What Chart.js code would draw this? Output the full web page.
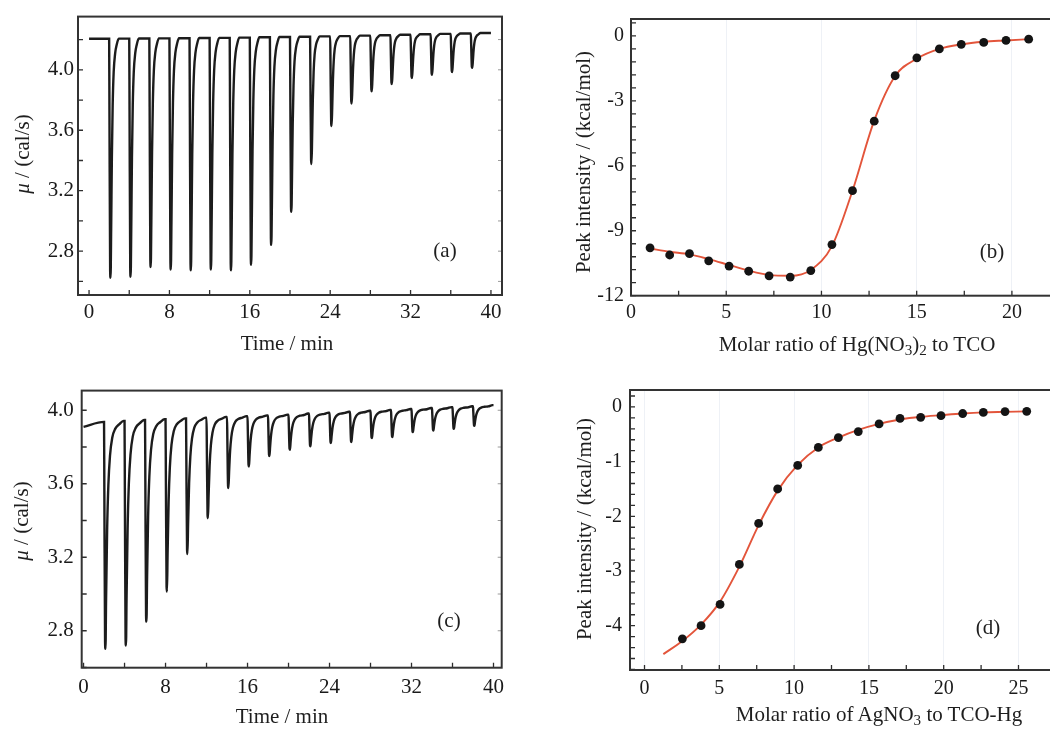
<!DOCTYPE html>
<html><head><meta charset="utf-8">
<script src="https://cdn.jsdelivr.net/npm/chart.js@4.4.1/dist/chart.umd.min.js"></script>
<style>
html,body{margin:0;padding:0;background:#fff;width:1050px;height:729px;overflow:hidden;position:relative}
canvas{position:absolute}
.t{position:absolute;font-family:'Liberation Serif','Times New Roman',serif;font-size:21px;color:#1e1e1e;line-height:1;white-space:nowrap;transform:translate(-50%,-50%)}
.r{transform:translate(-50%,-50%) rotate(-90deg)}
sub{font-size:72%;vertical-align:-0.28em;line-height:0}
</style></head><body>
<canvas id="ca" width="520" height="365" style="left:0;top:0"></canvas>
<canvas id="cb" width="600" height="365" style="left:520px;top:0"></canvas>
<canvas id="cc" width="520" height="359" style="left:0;top:370px"></canvas>
<canvas id="cd" width="600" height="359" style="left:520px;top:370px"></canvas>

<div class="t" style="left:287px;top:343px">Time / min</div>
<div class="t r" style="left:22px;top:154px"><i>μ</i> / (cal/s)</div>
<div class="t" style="left:445px;top:250px">(a)</div>

<div class="t" style="left:857px;top:344px">Molar ratio of Hg(NO<sub>3</sub>)<sub>2</sub> to TCO</div>
<div class="t r" style="left:583px;top:162px">Peak intensity / (kcal/mol)</div>
<div class="t" style="left:992px;top:251px">(b)</div>

<div class="t" style="left:282px;top:716px">Time / min</div>
<div class="t r" style="left:21px;top:521px"><i>μ</i> / (cal/s)</div>
<div class="t" style="left:449px;top:620px">(c)</div>

<div class="t" style="left:879px;top:714px">Molar ratio of AgNO<sub>3</sub> to TCO-Hg</div>
<div class="t r" style="left:584px;top:529px">Peak intensity / (kcal/mol)</div>
<div class="t" style="left:988px;top:627px">(d)</div>

<script>
// ---------- data ----------
// Panel (a): thermogram, Hg(NO3)2 into TCO
const injTimesA = [2,4,6,8,10,12,14,16,18,20,22,24,26,28,30,32,34,36,38];
const startLevelA = 4.205;
const baselineA = [4.205,4.206,4.207,4.208,4.209,4.21,4.211,4.213,4.215,4.217,4.219,4.221,4.223,4.226,4.229,4.232,4.235,4.238,4.24,4.243];
const peakMinA = [2.623,2.63,2.695,2.678,2.673,2.678,2.673,2.71,2.842,3.06,3.377,3.628,3.777,3.858,3.906,3.946,3.967,3.985,4.013];
const endTimeA = 40;
// dip shape: [minutes after injection, fraction of dip depth]
const dipShapeA = [[0.03,0.3],[0.1,0.97],[0.14,1],[0.2,0.8],[0.27,0.5],[0.35,0.28],[0.45,0.14],[0.6,0.06],[0.75,0.025],[0.95,0]];

// Panel (c): thermogram, AgNO3 into TCO-Hg
const injTimesC = [2,4,6,8,10,12,14,16,18,20,22,24,26,28,30,32,34,36,38];
const startLevelC = 3.91;
const baselineC = [3.937,3.942,3.947,3.952,3.956,3.96,3.964,3.968,3.972,3.976,3.982,3.987,3.992,3.997,4.002,4.007,4.012,4.017,4.022,4.028];
const peakMinC = [2.702,2.72,2.85,3.013,3.218,3.413,3.577,3.694,3.751,3.785,3.804,3.822,3.827,3.849,3.854,3.881,3.89,3.899,3.916];
const endTimeC = 40;
const dipShapeC = [[0.03,0.3],[0.1,0.97],[0.14,1],[0.2,0.78],[0.3,0.48],[0.42,0.28],[0.58,0.15],[0.8,0.07],[1.1,0.03],[1.5,0.01],[1.9,0]];

// Panel (b): integrated heats
const ratioB = [1.00,2.03,3.07,4.08,5.15,6.18,7.25,8.36,9.44,10.55,11.63,12.77,13.87,15.01,16.19,17.34,18.52,19.69,20.88];
const heatB  = [-9.79,-10.12,-10.06,-10.39,-10.63,-10.87,-11.08,-11.14,-10.84,-9.64,-7.15,-3.94,-1.84,-1.02,-0.60,-0.39,-0.30,-0.21,-0.15];
const fitB   = [-9.82,-9.97,-10.09,-10.31,-10.58,-10.84,-11.04,-11.08,-10.81,-9.71,-7.15,-3.91,-1.85,-1.05,-0.60,-0.39,-0.27,-0.21,-0.15];

// Panel (d): integrated heats
const ratioD = [2.53,3.78,5.05,6.34,7.63,8.90,10.24,11.62,12.96,14.29,15.68,17.08,18.46,19.82,21.27,22.65,24.10,25.55];
const heatD  = [-4.24,-4.00,-3.61,-2.88,-2.13,-1.50,-1.07,-0.74,-0.56,-0.45,-0.31,-0.21,-0.19,-0.16,-0.12,-0.10,-0.085,-0.08];
const fitXD  = [1.26,2.53,3.78,5.05,6.34,7.63,8.90,10.24,11.62,12.96,14.29,15.68,17.08,18.46,19.82,21.27,22.65,24.10,25.55];
const fitYD  = [-4.52,-4.28,-3.98,-3.56,-2.92,-2.16,-1.53,-1.06,-0.74,-0.56,-0.42,-0.31,-0.23,-0.18,-0.15,-0.12,-0.10,-0.09,-0.08];

// tick labels
const xTicksA = [0,8,16,24,32,40];
const yTicksA = [2.8,3.2,3.6,4.0];
const xTicksB = [0,5,10,15,20];
const yTicksB = [-12,-9,-6,-3,0];
const xTicksC = [0,8,16,24,32,40];
const yTicksC = [2.8,3.2,3.6,4.0];
const xTicksD = [0,5,10,15,20,25];
const yTicksD = [-4,-3,-2,-1,0];
// tick marks (inside)
const xMarksAC = [0,4,8,12,16,20,24,28,32,36,40];
const yMarksA = [2.6,2.8,3.0,3.2,3.4,3.6,3.8,4.0,4.2];
const yMarksC = [2.6,2.8,3.0,3.2,3.4,3.6,3.8,4.0];
const xMarksB = [0,2.5,5,7.5,10,12.5,15,17.5,20,22.5];
const yMarksB = [-12,-11.4,-10.8,-10.2,-9.6,-9,-8.4,-7.8,-7.2,-6.6,-6,-5.4,-4.8,-4.2,-3.6,-3,-2.4,-1.8,-1.2,-0.6,0,0.6];
const xMarksD = [0,2.5,5,7.5,10,12.5,15,17.5,20,22.5,25,27.5];
const yMarksD = [-4.8,-4.6,-4.4,-4.2,-4,-3.8,-3.6,-3.4,-3.2,-3,-2.8,-2.6,-2.4,-2.2,-2,-1.8,-1.6,-1.4,-1.2,-1,-0.8,-0.6,-0.4,-0.2,0,0.2];

// ---------- build ----------
function buildThermo(start, inj, base, mins, shape, tEnd){
  const pts = [{x:0, y:start}];
  inj.forEach((t,k)=>{
    pts.push({x:t, y:base[k]});
    shape.forEach(([o,f])=>{
      const B = f===0 ? base[k+1] : base[k];
      pts.push({x:t+o, y:B - f*(B - mins[k])});
    });
  });
  pts.push({x:tEnd, y:base[base.length-1]});
  return pts;
}
const zip = (xs,ys)=>xs.map((x,i)=>({x, y:ys[i]}));

const framePlugin = {
  id:'frame',
  afterDraw(chart, args, opts){
    const {ctx, chartArea:a, scales:{x,y}} = chart;
    ctx.save();
    ctx.strokeStyle = '#2e2e2e'; ctx.lineWidth = 1.3;
    ctx.beginPath();
    (opts.xMarks||[]).forEach(v=>{
      const px = x.getPixelForValue(v);
      if (px < a.left-0.5 || px > a.right+0.5) return;
      ctx.moveTo(px, a.bottom); ctx.lineTo(px, a.bottom-5);
    });
    (opts.yMarks||[]).forEach(v=>{
      const py = y.getPixelForValue(v);
      if (py < a.top-0.5 || py > a.bottom+0.5) return;
      ctx.moveTo(a.left, py); ctx.lineTo(a.left+5, py);
    });
    ctx.stroke();
    if (opts.right){
      ctx.strokeStyle = '#9a9a9a'; ctx.lineWidth = 1;
      ctx.beginPath();
      (opts.yMarks||[]).forEach(v=>{
        const py = y.getPixelForValue(v);
        if (py < a.top-0.5 || py > a.bottom+0.5) return;
        ctx.moveTo(a.right, py); ctx.lineTo(a.right-4, py);
      });
      ctx.stroke();
    }
    ctx.lineWidth = 2; ctx.strokeStyle = '#333';
    ctx.strokeRect(a.left, a.top, a.right-a.left, a.bottom-a.top);
    ctx.restore();
  }
};

const FONT = 'Liberation Serif';
function axis(min, max, ticks, fmt, size, pad, fitSize, isX, grid){
  return {
    type:'linear', min, max,
    afterBuildTicks: s => { s.ticks = ticks.map(v=>({value:v})); },
    afterFit: s => { if (isX) s.height = fitSize; else s.width = fitSize; },
    grid: grid ? {display:true, drawOnChartArea:true, drawTicks:false, color:'rgba(205,215,228,0.35)', lineWidth:1}
               : {display:false, drawTicks:false},
    border:{display:false},
    ticks:{font:{family:FONT, size}, color:'#1a1a1a', padding:pad, maxRotation:0, minRotation:0, autoSkip:false, callback: v => fmt(v)}
  };
}
const f1 = v => v.toFixed(1);
const f0 = v => String(v);

function makeChart(id, datasets, xs, ys, padding, frame){
  return new Chart(document.getElementById(id), {
    type:'line',
    data:{datasets},
    options:{
      responsive:false, animation:false, devicePixelRatio:1,
      layout:{padding},
      plugins:{legend:{display:false}, tooltip:{enabled:false}, frame},
      scales:{x:xs, y:ys}
    },
    plugins:[framePlugin]
  });
}

// (a)
makeChart('ca',
  [{data: buildThermo(startLevelA, injTimesA, baselineA, peakMinA, dipShapeA, endTimeA),
    borderColor:'#1c1c1c', borderWidth:2.4, pointRadius:0, cubicInterpolationMode:'monotone', fill:false}],
  axis(-1.1, 41.1, xTicksA, f0, 21, 5, 70, true, false),
  axis(2.51, 4.352, yTicksA, f1, 21, 4, 78, false, false),
  {left:0, top:14, right:18, bottom:0},
  {xMarks:xMarksAC, yMarks:yMarksA, right:true});

// (b)
makeChart('cb',
  [{data: zip(ratioB, heatB), showLine:false, pointRadius:4.4, pointBackgroundColor:'#141414', pointBorderWidth:0},
   {data: zip(ratioB, fitB), borderColor:'#e3553b', borderWidth:1.9, pointRadius:0, cubicInterpolationMode:'monotone', fill:false}],
  axis(0, 24.1, xTicksB, f0, 20, 5, 69.3, true, true),
  axis(-12, 0.78, yTicksB, f0, 20, 7, 111, false, false),
  {left:0, top:12.7, right:30, bottom:0},
  {xMarks:xMarksB, yMarks:yMarksB, right:false});

// (c)
makeChart('cc',
  [{data: buildThermo(startLevelC, injTimesC, baselineC, peakMinC, dipShapeC, endTimeC),
    borderColor:'#1c1c1c', borderWidth:2.4, pointRadius:0, cubicInterpolationMode:'monotone', fill:false}],
  axis(-0.18, 40.8, xTicksC, f0, 21, 7, 61.3, true, false),
  axis(2.599, 4.107, yTicksC, f1, 21, 8, 81.7, false, false),
  {left:0, top:15, right:18.3, bottom:0},
  {xMarks:xMarksAC, yMarks:yMarksC, right:true});

// (d)
makeChart('cd',
  [{data: zip(ratioD, heatD), showLine:false, pointRadius:4.4, pointBackgroundColor:'#141414', pointBorderWidth:0},
   {data: zip(fitXD, fitYD), borderColor:'#e3553b', borderWidth:1.9, pointRadius:0, cubicInterpolationMode:'monotone', fill:false}],
  axis(-0.97, 29.78, xTicksD, f0, 20, 7, 59, true, true),
  axis(-4.81, 0.31, yTicksD, f0, 20, 8, 110, false, false),
  {left:0, top:15, right:30, bottom:0},
  {xMarks:xMarksD, yMarks:yMarksD, right:false});
</script>
</body></html>
